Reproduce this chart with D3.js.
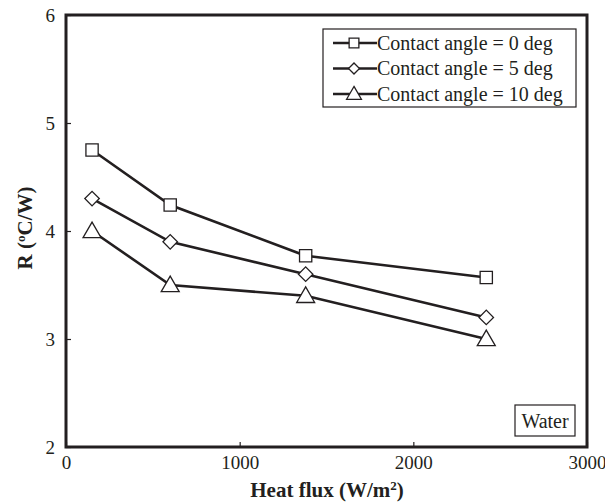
<!DOCTYPE html>
<meta charset="utf-8">
<style>
body { margin: 0; background: #fff; }
svg text { font-family: "Liberation Serif", "Times New Roman", serif; fill: #231f20; }
.series { fill: none; stroke: #231f20; stroke-width: 2.6px; }
.mark { fill: #fff; stroke: #231f20; stroke-width: 1.3px; }
.axis path { display: none; }
.axis line { stroke: #231f20; stroke-width: 1.2px; }
</style>
<body>
<script src="https://d3js.org/d3.v7.min.js"></script>
<script>

// data
var heatFlux = [150, 600, 1380, 2420];
var angle0 = [4.75, 4.24, 3.77, 3.57];
var angle5 = [4.30, 3.90, 3.60, 3.20];
var angle10 = [4.00, 3.50, 3.40, 3.00];
var seriesNames = ["Contact angle = 0 deg", "Contact angle = 5 deg", "Contact angle = 10 deg"];
var xTicks = [0, 1000, 2000, 3000];
var yTicks = [2, 3, 4, 5, 6];

var serif = "'Liberation Serif', 'Times New Roman', serif";

var margin = {top: 15, right: 18, bottom: 56, left: 66},
    width = 605 - margin.left - margin.right,
    height = 503 - margin.top - margin.bottom;

var x = d3.scaleLinear().domain([0, 3000]).range([0, width]);
var y = d3.scaleLinear().domain([2, 6]).range([height, 0]);

var svg = d3.select("body").append("svg")
    .attr("width", 605)
    .attr("height", 503)
  .append("g")
    .attr("transform", "translate(" + margin.left + "," + margin.top + ")");

// x axis, ticks pointing inward
svg.append("g")
    .attr("class", "axis")
    .attr("transform", "translate(0," + height + ")")
    .call(d3.axisBottom(x).tickValues(xTicks).tickSize(-5).tickPadding(9).tickFormat(d3.format("d")))
    .attr("font-family", serif)
    .attr("font-size", 19);

// y axis
svg.append("g")
    .attr("class", "axis")
    .call(d3.axisLeft(y).tickValues(yTicks).tickSize(-5).tickPadding(11).tickFormat(d3.format("d")))
    .attr("font-family", serif)
    .attr("font-size", 19);

// frame
svg.append("rect")
    .attr("width", width)
    .attr("height", height)
    .attr("fill", "none")
    .attr("stroke", "#231f20")
    .attr("stroke-width", 3);

var line = d3.line()
    .x(function(d, i) { return x(heatFlux[i]); })
    .y(function(d) { return y(d); });

// square, diamond (rotated square), triangle
var symbols = [d3.symbolSquare, d3.symbolSquare, d3.symbolTriangle];
var rot = [0, 45, 0];
var sizes = [150, 105, 140];
var allSeries = [angle0, angle5, angle10];

allSeries.forEach(function(s, k) {
  svg.append("path")
      .datum(s)
      .attr("class", "series")
      .attr("d", line);
  svg.selectAll(".m" + k)
    .data(s)
    .enter().append("path")
      .attr("class", "mark m" + k)
      .attr("transform", function(d, i) {
        return "translate(" + x(heatFlux[i]) + "," + (y(d) + (k == 2 ? 1.5 : 0)) + ") rotate(" + rot[k] + ")";
      })
      .attr("d", d3.symbol().type(symbols[k]).size(sizes[k]));
});

// legend
var lg = svg.append("g").attr("transform", "translate(" + (323 - margin.left) + "," + (29 - margin.top) + ")");
lg.append("rect")
    .attr("width", 253)
    .attr("height", 78)
    .attr("fill", "#fff")
    .attr("stroke", "#231f20")
    .attr("stroke-width", 1.2);
seriesNames.forEach(function(name, k) {
  var cy = 14 + k * 25.5;
  lg.append("line")
      .attr("x1", 10).attr("x2", 54)
      .attr("y1", cy).attr("y2", cy)
      .attr("stroke", "#231f20").attr("stroke-width", 2.6);
  lg.append("path")
      .attr("class", "mark")
      .attr("transform", "translate(31," + (cy + (k == 2 ? 1 : 0)) + ") rotate(" + rot[k] + ")")
      .attr("d", d3.symbol().type(symbols[k]).size(k == 1 ? 60 : 95));
  lg.append("text")
      .attr("x", 54)
      .attr("y", cy)
      .attr("dy", "0.33em")
      .attr("font-family", serif)
      .style("font-size", "20px")
      .text(name);
});

// "Water" label box
var wb = svg.append("g").attr("transform", "translate(" + (515 - margin.left) + "," + (405 - margin.top) + ")");
wb.append("rect")
    .attr("width", 60)
    .attr("height", 31)
    .attr("fill", "#fff")
    .attr("stroke", "#231f20")
    .attr("stroke-width", 1.2);
wb.append("text")
    .attr("x", 30)
    .attr("y", 16)
    .attr("dy", "0.35em")
    .attr("text-anchor", "middle")
    .attr("font-family", serif)
    .style("font-size", "20px")
    .text("Water");

// axis titles
var xt = svg.append("text")
    .attr("x", 327 - margin.left)
    .attr("y", 497 - margin.top)
    .attr("text-anchor", "middle")
    .attr("font-family", serif)
    .style("font-size", "21px")
    .style("font-weight", "bold");
xt.append("tspan").text("Heat flux (W/m");
xt.append("tspan").attr("baseline-shift", "super").style("font-size", "13px").text("2");
xt.append("tspan").text(")");

var yt = svg.append("text")
    .attr("transform", "translate(" + (32 - margin.left) + "," + (228 - margin.top) + ") rotate(-90)")
    .attr("text-anchor", "middle")
    .attr("font-family", serif)
    .style("font-size", "21px")
    .style("font-weight", "bold");
yt.append("tspan").text("R (");
yt.append("tspan").attr("baseline-shift", "super").style("font-size", "13px").text("o");
yt.append("tspan").text("C/W)");

</script>
</body>
